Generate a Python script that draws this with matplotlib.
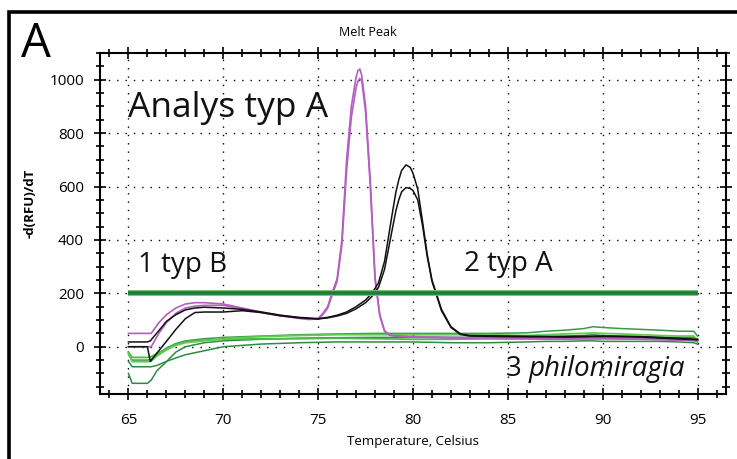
import matplotlib
matplotlib.use("Agg")
import matplotlib.pyplot as plt
from matplotlib.patches import Rectangle
from matplotlib.ticker import MultipleLocator

plt.rcParams['font.family'] = ['Open Sans', 'DejaVu Sans']

# magenta samples (melt peak ~77 C)
temp_mag = [65, 66.2, 66.6, 67, 67.5, 68, 68.5, 69, 70, 71, 72, 73, 74, 74.5, 75,
            75.25, 75.5, 75.75, 76, 76.25, 76.5, 76.75, 77, 77.1, 77.2, 77.3, 77.5,
            77.75, 78, 78.25, 78.5, 78.75, 79, 80, 82, 85, 88, 90, 92, 95]
mag_1 = [50, 50, 90, 120, 145, 160, 165, 165, 160, 145, 130, 118, 108, 104, 106,
         125, 150, 205, 255, 400, 700, 900, 1010, 1035, 1040, 1015, 900,
         620, 260, 120, 60, 45, 42, 38, 35, 32, 30, 33, 30, 25]
mag_2 = [0, 0, 50, 90, 125, 145, 152, 155, 155, 142, 128, 116, 106, 102, 104,
         120, 145, 195, 245, 380, 660, 860, 970, 995, 1005, 995, 880,
         600, 250, 115, 58, 44, 40, 36, 33, 30, 28, 30, 28, 22]

# black samples (melt peak ~79.6 C)
temp_blk = [65, 66.0, 66.15, 66.6, 67, 67.5, 68, 68.5, 69, 70, 71, 72, 73, 74, 75, 75.5,
            76, 76.5, 77, 77.5, 77.83, 78.18, 78.5, 78.88, 79.1, 79.25, 79.4, 79.63,
            79.85, 80, 80.25, 80.5, 80.75, 81, 81.25, 81.5, 82, 82.5, 83, 85, 88,
            90, 92, 95]
blk_1 = [18, 18, 22, 60, 95, 120, 138, 145, 148, 145, 140, 130, 118, 110, 105, 110,
         118, 130, 150, 175, 200, 239, 320, 487, 580, 625, 660, 681,
         672, 650, 590, 470, 345, 250, 195, 140, 75, 48, 42, 40, 38,
         40, 38, 28]
blk_2 = [0, 0, -55, -15, 20, 65, 105, 128, 130, 130, 135, 128, 116, 108, 104, 108,
         115, 125, 142, 165, 188, 222, 290, 430, 510, 550, 580, 596,
         593, 585, 550, 455, 338, 245, 190, 135, 72, 46, 40, 38, 36,
         38, 36, 26]

# green samples (philomiragia, no peak)
temp_grn = [65, 65.2, 66, 66.2, 66.5, 67, 67.5, 68, 69, 70, 72, 74, 76, 78, 80,
            82, 84, 86, 87, 88, 89, 89.5, 90, 91, 92, 93, 94, 94.8, 95]
grn_1 = [-25, -56, -56, -54, -35, -12, 5, 15, 22, 30, 38, 42, 45, 45, 45,
         45, 45, 42, 45, 48, 50, 52, 50, 48, 45, 42, 40, 40, 25]
grn_2 = [-30, -50, -50, -48, -30, -5, 12, 22, 30, 35, 40, 45, 48, 50, 50,
         50, 50, 52, 58, 62, 68, 75, 72, 68, 65, 62, 58, 58, 40]
grn_3 = [-55, -75, -75, -75, -70, -55, -42, -30, -15, 0, 10, 15, 18, 18, 18,
         15, 15, 18, 20, 20, 22, 22, 20, 20, 20, 20, 18, 15, 10]
grn_4 = [-100, -137, -137, -125, -90, -56, -20, 0, 15, 22, 28, 32, 34, 35, 35,
         35, 35, 35, 38, 40, 42, 45, 42, 40, 38, 36, 35, 35, 28]
grn_5 = [-20, -40, -40, -38, -25, -8, 8, 18, 25, 28, 30, 30, 32, 30, 28,
         28, 30, 30, 30, 32, 32, 30, 30, 30, 30, 28, 28, 25, 18]

threshold_x = [65, 95]
threshold_y = [200, 200]

fig = plt.figure(figsize=(7.37, 4.59), dpi=100)
ax = fig.add_axes([100 / 737, 1 - 394 / 459, 626 / 737, 341 / 459])

ax.plot(temp_grn, grn_4, color='#2e8b45', lw=1.1)
ax.plot(temp_grn, grn_3, color='#2e8b45', lw=1.1)
ax.plot(temp_grn, grn_2, color='#3a9a4a', lw=1.1)
ax.plot(temp_grn, grn_5, color='#4cbb4a', lw=1.3)
ax.plot(temp_grn, grn_1, color='#62cc52', lw=1.3)
ax.plot(temp_mag, mag_1, color='#b45fc0', lw=1.2)
ax.plot(temp_mag, mag_2, color='#b45fc0', lw=1.2)
ax.plot(temp_blk, blk_1, color='#111111', lw=1.1)
ax.plot(temp_blk, blk_2, color='#111111', lw=1.1)
ax.plot(threshold_x, threshold_y, color='#6cc06c', lw=4.2, solid_capstyle='butt')
ax.plot(threshold_x, threshold_y, color='#1d7f36', lw=2.6, solid_capstyle='butt')

ax.set_xlim(63.5, 96.5)
ax.set_ylim(-177, 1100)
ax.xaxis.set_major_locator(MultipleLocator(5))
ax.xaxis.set_minor_locator(MultipleLocator(1))
ax.yaxis.set_major_locator(MultipleLocator(200))
ax.yaxis.set_minor_locator(MultipleLocator(50))
ax.grid(True, which='major', color='black', linestyle=(0, (1, 5)), linewidth=1)

ax.tick_params(which='both', direction='inout', top=True, right=True,
               labelsize=11, color='black', width=1.2)
ax.tick_params(which='major', length=9)
ax.tick_params(which='minor', length=6)
ax.tick_params(axis='x', pad=9)
ax.tick_params(axis='y', pad=7)
for s in ax.spines.values():
    s.set_linewidth(1.5)

ax.text(65, 860, 'Analys typ A', fontsize=25.5, color='#111111')
ax.text(65.5, 280, '1 typ B', fontsize=20, color='#111111')
ax.text(82.7, 283, '2 typ A', fontsize=20, color='#111111')
ax.text(84.9, -110, '3', fontsize=20, color='#111111')
ax.text(86.1, -110, 'philomiragia', fontsize=20, style='italic', color='#111111')

fig.text(368 / 737, 1 - 36 / 459, 'Melt Peak', ha='center', fontsize=9)
fig.text(413 / 737, 1 - 445 / 459, 'Temperature, Celsius', ha='center', fontsize=9.5)
fig.text(30 / 737, 1 - 203 / 459, '-d(RFU)/dT', rotation=90, ha='center', va='center',
         fontsize=9.5, fontweight='bold')
fig.text(21 / 737, 1 - 57 / 459, 'A', fontsize=34)

fig.patches.append(Rectangle((9 / 737, -0.1), 1.2, 1.1 + (1 - 12 / 459) - 1,
                             transform=fig.transFigure, fill=False, lw=2.6,
                             edgecolor='black'))

fig.savefig('out.png', dpi=100)
